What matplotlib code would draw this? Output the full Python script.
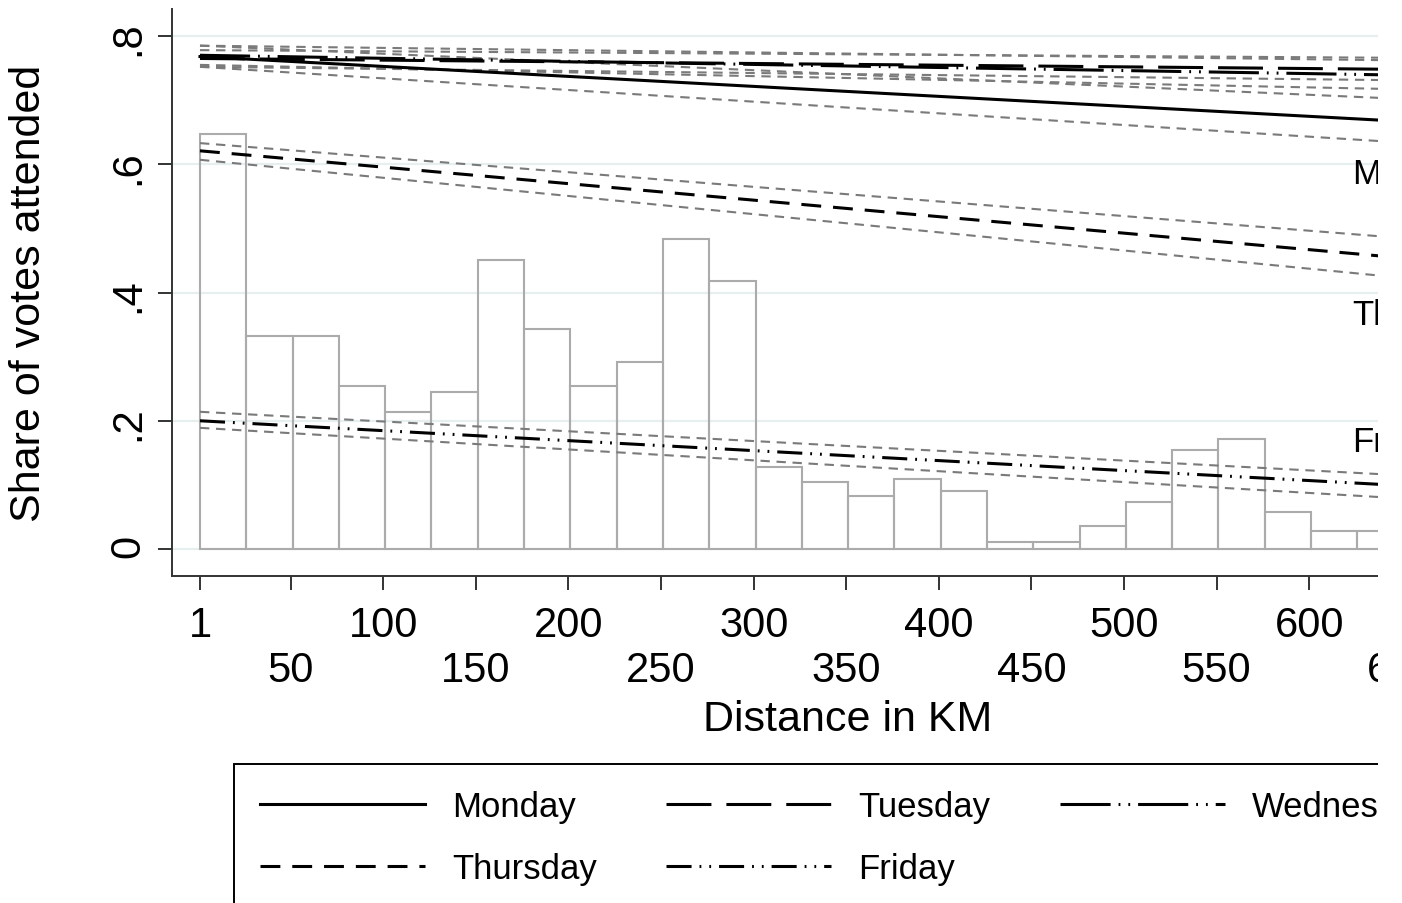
import numpy as np
import matplotlib.pyplot as plt
from matplotlib.patches import Rectangle

plt.rcParams['font.family'] = ['Liberation Sans', 'DejaVu Sans']

# Histogram: share of MPs by distance (25 km bins starting at 1 km)
bin_width = 25
hist_share = [0.647, 0.332, 0.332, 0.254, 0.214, 0.245, 0.451, 0.343, 0.254,
              0.292, 0.483, 0.418, 0.128, 0.104, 0.083, 0.109, 0.090, 0.011,
              0.011, 0.036, 0.073, 0.154, 0.172, 0.058, 0.028, 0.028]
bin_left = 1 + bin_width * np.arange(len(hist_share))

# Linear fits with confidence bands, read at distance 1 and 650 km
days = ['Monday', 'Tuesday', 'Wednesday', 'Thursday', 'Friday']
fit_x = [1, 650]
fit_start = [0.768, 0.765, 0.770, 0.621, 0.200]
fit_end = [0.667, 0.748, 0.739, 0.454, 0.099]
ci_hi_start = [0.785, 0.778, 0.785, 0.633, 0.214]
ci_hi_end = [0.702, 0.766, 0.762, 0.485, 0.115]
ci_lo_start = [0.752, 0.752, 0.755, 0.607, 0.189]
ci_lo_end = [0.634, 0.731, 0.717, 0.423, 0.079]

# Stata-like line patterns
day_dashes = [None,
              (14.7, 4.9),
              (16.4, 2.6, 0.6, 2.6, 0.6, 2.6),
              (6.5, 3.9),
              (8.2, 2.6, 0.6, 2.6, 0.6, 2.6)]

xtick_top = [1, 100, 200, 300, 400, 500, 600]
xtick_bottom = [50, 150, 250, 350, 450, 550, 650]
yticks = [0, 0.2, 0.4, 0.6, 0.8]
ytick_labels = ['0', '.2', '.4', '.6', '.8']

fig = plt.figure(figsize=(14.02, 9.04), dpi=100)
ax = fig.add_axes([0.1227, 0.3617, 0.9643, 0.6272])

for y in yticks:
    ax.axhline(y, color='#e6eef0', lw=1.6, zorder=0)

ax.bar(bin_left, hist_share, width=bin_width, align='edge',
       facecolor='none', edgecolor='#ababab', lw=1.5, zorder=1)

handles = {}
for i, day in enumerate(days):
    for lo, hi in [(ci_hi_start[i], ci_hi_end[i]), (ci_lo_start[i], ci_lo_end[i])]:
        ax.plot(fit_x, [lo, hi], color='#7a7a7a', lw=1.5,
                dashes=(4.5, 3.2), zorder=2)
for i, day in enumerate(days):
    line, = ax.plot(fit_x, [fit_start[i], fit_end[i]], color='black', lw=2.2,
                    zorder=3, label=day)
    if day_dashes[i] is not None:
        line.set_dashes(day_dashes[i])
    handles[day] = line

ax.text(623, 0.585, 'Mon–Wed', fontsize=25, va='center', ha='left', zorder=4)
ax.text(623, 0.366, 'Thursday', fontsize=25, va='center', ha='left', zorder=4)
ax.text(623, 0.167, 'Friday', fontsize=25, va='center', ha='left', zorder=4)

ax.set_xlim(-14.1, 716)
ax.set_ylim(-0.0421, 0.8421)

ax.set_xticks(xtick_top)
ax.set_xticklabels([str(v) for v in xtick_top])
ax.set_xticks(xtick_bottom, minor=True)
ax.set_xticklabels([str(v) for v in xtick_bottom], minor=True)
ax.tick_params(axis='x', which='both', length=10, width=1.4, labelsize=30,
               direction='out', color='#333333')
ax.tick_params(axis='x', which='major', pad=11)
ax.tick_params(axis='x', which='minor', pad=43)

ax.set_yticks(yticks)
ax.set_yticklabels(ytick_labels)
ax.tick_params(axis='y', length=10, width=1.4, labelsize=30, pad=7,
               labelrotation=90, color='#333333')

for side in ['top', 'right']:
    ax.spines[side].set_visible(False)
for side in ['left', 'bottom']:
    ax.spines[side].set_linewidth(1.4)
    ax.spines[side].set_color('#333333')

ax.set_xlabel('Distance in KM', fontsize=31)
ax.xaxis.set_label_coords(0.5, -0.217)
ax.set_ylabel('Share of votes attended', fontsize=31)
ax.yaxis.set_label_coords(-0.091, 0.5)

order = ['Monday', 'Thursday', 'Tuesday', 'Friday', 'Wednesday']
leg = fig.legend([handles[d] for d in order], order, ncol=3, fontsize=25,
                 loc='upper left', bbox_to_anchor=(234 / 1402, 1 - 765 / 904),
                 borderaxespad=0, handlelength=4.75, handletextpad=0.78,
                 columnspacing=2.0, borderpad=0.75, labelspacing=0.83,
                 fancybox=False, framealpha=1, edgecolor='black')
leg.get_frame().set_linewidth(1.4)

# the source picture is cropped on the right
fig.add_artist(Rectangle((1378 / 1402, 0), 1, 1, transform=fig.transFigure,
                         facecolor='white', edgecolor='none', zorder=10))

fig.savefig('out.png', dpi=100)
